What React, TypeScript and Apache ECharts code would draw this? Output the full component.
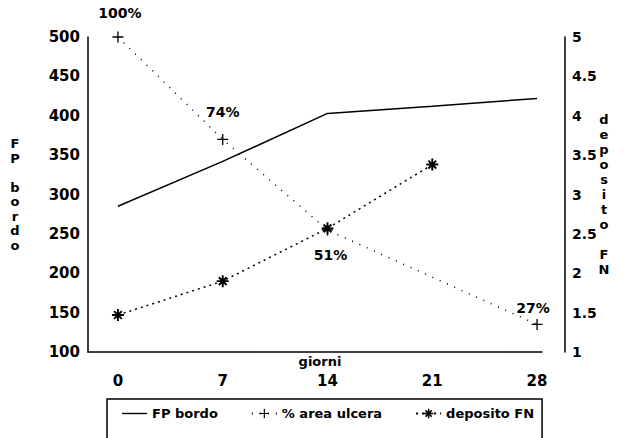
import React, { useEffect, useRef } from "react";
import * as echarts from "echarts";

const days = [0, 7, 14, 21, 28];
const fpBordo = [285, 342, 403, 412, 422];
const areaDays = [0, 7, 14, 28];
const areaUlcera = [100, 74, 51, 27];
const depositoDays = [0, 7, 14, 21];
const depositoFN = [1.47, 1.9, 2.57, 3.38];
const xTicks = [0, 7, 14, 21, 28];

const FONT = "DejaVu Sans";
const CROSS = "path://M0,4.4H10V5.6H0Z M4.4,0H5.6V10H4.4Z";
const STAR =
  "path://M0,4.2H10V5.8H0Z M4.2,0H5.8V10H4.2Z M2.32,1.18L8.82,7.68L7.68,8.82L1.18,2.32Z M7.68,1.18L8.82,2.32L2.32,8.82L1.18,7.68Z";
const DASH_ICON = "path://M0,0M0,5.3H25V6.7H0ZM25,12";

const areaLabelCfg = [
  { position: "top", distance: 12, offset: [2, 0] },
  { position: "top", distance: 15, offset: [0, 0] },
  { position: "bottom", distance: 13, offset: [3, 0] },
  { position: "top", distance: 4, offset: [-4, 0] },
];

export default function App() {
  const ref = useRef<HTMLDivElement>(null);
  useEffect(() => {
    if (!ref.current) return;
    const chart = echarts.init(ref.current, null, { renderer: "svg" });
    const txt = { fontFamily: FONT, fontWeight: "bold", color: "#000" };
    chart.setOption({
      animation: false,
      backgroundColor: "#fff",
      grid: { left: 88, right: 95, top: 37, bottom: 86 },
      legend: {
        left: 107,
        top: 399,
        orient: "horizontal",
        itemWidth: 25,
        itemHeight: 12,
        itemGap: 33,
        padding: [8, 8, 30, 15],
        borderColor: "#000",
        borderWidth: 1.5,
        textStyle: { ...txt, fontSize: 13 },
        data: [
          { name: "FP bordo", icon: DASH_ICON },
          "% area ulcera",
          "deposito FN",
        ],
      },
      xAxis: {
        type: "value",
        min: -2,
        max: 28.33,
        name: "giorni",
        nameLocation: "middle",
        nameGap: 3,
        nameMoveOverlap: false,
        nameTextStyle: { ...txt, fontSize: 13, verticalAlign: "top", padding: [0, 0, 0, 10] },
        axisLine: { show: true, onZero: false, lineStyle: { color: "#000", width: 1.5 } },
        axisTick: { show: false },
        splitLine: { show: false },
        axisLabel: { ...txt, fontSize: 15, margin: 21, customValues: xTicks },
      },
      yAxis: [
        {
          type: "value",
          min: 100,
          max: 500,
          interval: 50,
          position: "left",
          name: "F\nP\n\nb\no\nr\nd\no",
          nameLocation: "middle",
          nameRotate: 0,
          nameGap: 73,
          nameMoveOverlap: false,
          nameTextStyle: { ...txt, fontSize: 13, lineHeight: 14.5, align: "center" },
          axisLine: { show: true, onZero: false, lineStyle: { color: "#000", width: 1.5 } },
          axisTick: { show: false },
          splitLine: { show: false },
          axisLabel: { ...txt, fontSize: 15, margin: 8 },
        },
        {
          type: "value",
          min: 1,
          max: 5,
          interval: 0.5,
          position: "right",
          offset: 23,
          name: "d\ne\np\no\ns\ni\nt\no\n\nF\nN",
          nameLocation: "middle",
          nameRotate: 0,
          nameGap: 39,
          nameMoveOverlap: false,
          nameTextStyle: { ...txt, fontSize: 13, lineHeight: 15, align: "center" },
          axisLine: { show: true, onZero: false, lineStyle: { color: "#000", width: 1.5 } },
          axisTick: { show: false },
          splitLine: { show: false },
          axisLabel: { ...txt, fontSize: 14, margin: 7 },
        },
        {
          type: "value",
          min: 20,
          max: 100,
          show: false,
        },
      ],
      series: [
        {
          name: "FP bordo",
          type: "line",
          yAxisIndex: 0,
          symbol: "none",
          color: "#000",
          lineStyle: { color: "#000", width: 1.5, type: "solid" },
          data: days.map((d, i) => [d, fpBordo[i]]),
        },
        {
          name: "% area ulcera",
          type: "line",
          yAxisIndex: 2,
          symbol: CROSS,
          symbolSize: 11,
          color: "#000",
          itemStyle: { color: "#000" },
          lineStyle: { color: "#000", width: 1.5, type: [1, 7] },
          label: {
            show: true,
            ...txt,
            fontSize: 14,
            formatter: (p: any) => p.value[1] + "%",
          },
          data: areaDays.map((d, i) => ({
            value: [d, areaUlcera[i]],
            label: areaLabelCfg[i],
          })),
        },
        {
          name: "deposito FN",
          type: "line",
          yAxisIndex: 1,
          symbol: STAR,
          symbolSize: 12,
          color: "#000",
          itemStyle: { color: "#000" },
          lineStyle: { color: "#000", width: 1.5, type: [2, 4] },
          data: depositoDays.map((d, i) => [d, depositoFN[i]]),
        },
      ],
    });
    return () => chart.dispose();
  }, []);
  return (
    <div
      ref={ref}
      style={{ position: "fixed", left: 0, top: 0, width: 637, height: 438, background: "#fff" }}
    />
  );
}
